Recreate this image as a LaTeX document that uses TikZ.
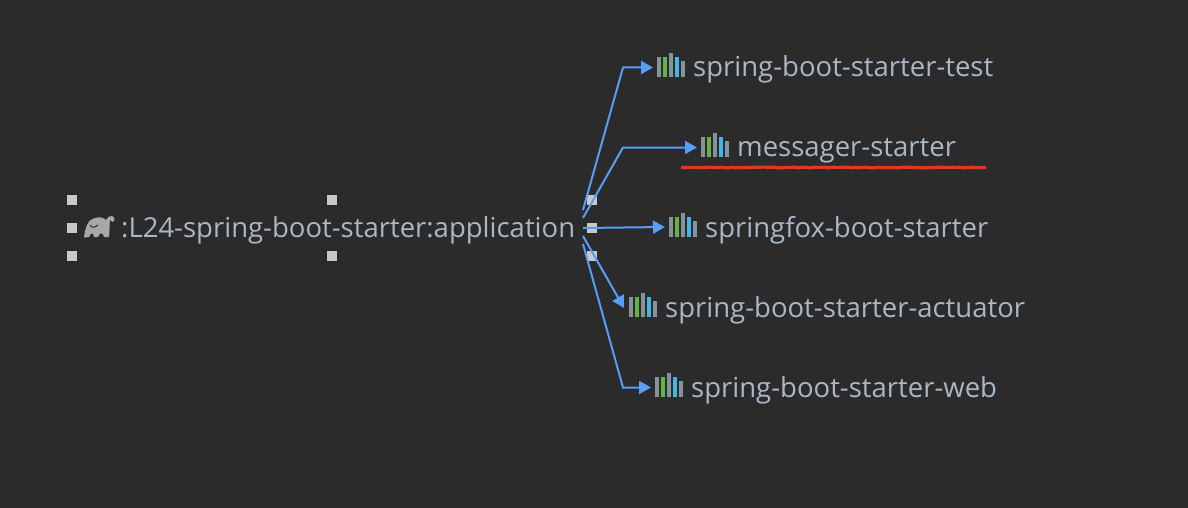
\documentclass[tikz,border=0pt]{standalone}
\usepackage{fontspec}
\setmainfont{Open Sans}
\usepackage{tikz}
\usetikzlibrary{positioning, arrows.meta, decorations.pathmorphing}

\definecolor{panelbg}{HTML}{2B2B2B}
\definecolor{labeltext}{HTML}{A9B7C6}
\definecolor{linkblue}{HTML}{589DF6}
\definecolor{handlegrey}{HTML}{C8C8C8}
\definecolor{bargrey}{HTML}{87939A}
\definecolor{bargreen}{HTML}{62B543}
\definecolor{barblue}{HTML}{40B6E0}
\definecolor{elephantgrey}{HTML}{A8A8A8}
\definecolor{squiggle}{HTML}{E0391F}

\tikzset{
  handle/.style={fill=handlegrey, minimum size=10pt, inner sep=0pt},
  label/.style={text=labeltext, font=\fontsize{27.5}{30}\selectfont, inner sep=0pt, anchor=base west},
  dep/.style={draw=linkblue, line width=2pt, -{Triangle[length=12pt,width=13pt]}},
  libicon/.pic={
    \fill[bargrey] (-0.3,-10) rectangle (4.3,10);
    \fill[bargreen] (5.7,-10) rectangle (10.3,10);
    \fill[bargrey] (11.7,-14) rectangle (16.3,10);
    \fill[barblue] (17.7,-10) rectangle (22.3,10);
    \fill[bargrey] (23.7,-6) rectangle (28.3,10);
  }
}

\begin{document}
\begin{tikzpicture}[x=1pt, y=-1pt]
   \useasboundingbox[fill=panelbg] (0,0) rectangle (1188,508);

   % selection handles
   \node[handle] (h1) at (72,200) {};
   \node[handle] (h2) at (332,200) {};
   \node[handle] (h3) at (592,200) {};
   \node[handle] (h4) at (72,228) {};
   \node[handle] (h5) at (592,228) {};
   \node[handle] (h6) at (72,256) {};
   \node[handle] (h7) at (332,256) {};
   \node[handle] (h8) at (592,256) {};

   % gradle elephant
   \fill[elephantgrey] (84,237.5) .. controls (85,228) and (88,219) .. (95,218)
      .. controls (99,217) and (103,217) .. (106,220)
      .. controls (108,217) and (110,215.5) .. (112,216)
      .. controls (115,217) and (115,221) .. (113,222)
      .. controls (111,222) and (111,220) .. (110.5,219.5)
      .. controls (109,222) and (110,230) .. (109,237)
      -- (104,237) .. controls (103,232) and (100,232) .. (98,237)
      -- (94,237) .. controls (93,232) and (91,232) .. (89,237)
      -- cycle;
   \draw[panelbg, line width=1pt] (90,225) .. controls (92,228) and (94,228) .. (98,225);

   % labels
   \node[label] (app) at (121,237) {:L24-spring-boot-starter:application};
   \node[label] (test) at (693,77) {spring-boot-starter-test};
   \node[label] (msg) at (737,157) {messager-starter};
   \node[label] (fox) at (705,237) {springfox-boot-starter};
   \node[label] (act) at (665,317) {spring-boot-starter-actuator};
   \node[label] (web) at (691,397) {spring-boot-starter-web};

   % library icons
   \pic at (657,67) {libicon};
   \pic at (701,147) {libicon};
   \pic at (669,227) {libicon};
   \pic at (629,307) {libicon};
   \pic at (655,387) {libicon};

   \coordinate (t1) at (583,210);
   \coordinate (t2) at (583,218);
   \coordinate (t3) at (583,228);
   \coordinate (t4) at (583,236);
   \coordinate (t5) at (583,244);
   \coordinate (e1) at (653,67.5);
   \coordinate (e2) at (697,147.5);
   \coordinate (e3) at (665,227);
   \coordinate (e4) at (624,308);
   \coordinate (e5) at (651,387.5);

   % dependency arrows
   \draw[dep] (t1) -- (623,67.5) -- (e1);
   \draw[dep] (t2) -- (623,147.5) -- (e2);
   \draw[dep] (t3) -- (e3);
   \draw[dep] (t4) -- (e4);
   \draw[dep] (t5) -- (623,387.5) -- (e5);

   % red underline
   \coordinate (u1) at (681,167.5);
   \coordinate (u2) at (986,167.5);
   \draw[squiggle, line width=3.2pt, decorate, decoration={random steps, segment length=3pt, amplitude=0.4pt}] (u1) -- (u2);
\end{tikzpicture}
\end{document}
